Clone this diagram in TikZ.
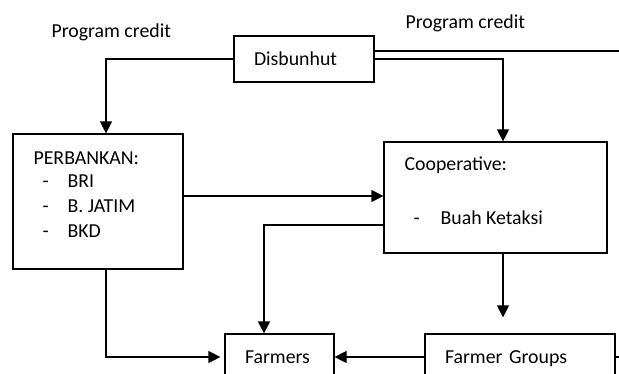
\documentclass[tikz,border=0pt]{standalone}
\usepackage{fontspec}
\setmainfont{Carlito}
\usetikzlibrary{arrows.meta}

\begin{document}
\begin{tikzpicture}[x=1pt, y=-1pt, line width=1.2pt,
    font=\fontsize{19.8}{24}\selectfont,
    box/.style={draw, inner sep=0pt, text height=12pt, text depth=0pt},
    txt/.style={anchor=base west, inner sep=0pt},
    arr/.style={-{Triangle[length=12pt,width=12pt]}}]
  \clip (0,0) rectangle (619,373);

  % boxes
  \node[box, minimum width=140pt, minimum height=46pt, text width=100pt, inner xsep=20pt, align=left] (disb) at (304,59) {Disbunhut};
  \node[box, minimum width=170pt, minimum height=135pt] (perb) at (98,201.5) {};
  \node[box, minimum width=223pt, minimum height=111pt] (coop) at (495.5,197.5) {};
  \node[box, minimum width=109pt, minimum height=46pt, text width=69pt, inner xsep=20pt, align=left] (farm) at (279.5,357) {Farmers};
  \node[box, minimum width=190pt, minimum height=46pt, text width=150pt, inner xsep=20pt, align=left] (fg) at (520,357) {Farmer Groups};

  % texts
  \node[txt] (credl) at (51,37) {Program credit};
  \node[txt] (credr) at (405,28) {Program credit};
  \node[txt] (perbt) at (33,164) {PERBANKAN:};
  \foreach \y/\t/\n in {187/BRI/bri, 212/B. JATIM/jatim, 237/BKD/bkd} {
    \node[txt] (dash\n) at (42,\y) {-};
    \node[txt] (\n) at (67,\y) {\t};
  }
  \node[txt] (coopt) at (404,170) {Cooperative:};
  \node[txt] (dashbuah) at (413,224) {-};
  \node[txt] (buah) at (440,224) {Buah Ketaksi};

  % connectors
  \draw[arr] (disb.west) -| ([xshift=8pt]perb.north);
  \coordinate (credend) at (619,51);
  \draw ([yshift=8pt]disb.east) -- (credend);
  \draw[arr] (disb.east) -| ([xshift=7.5pt]coop.north);
  \draw[arr] ([yshift=5.5pt]perb.east) -- ([yshift=5.5pt]perb.east -| coop.west);
  \draw[arr] ([yshift=-27.5pt]coop.west) -| ([xshift=-15.5pt]farm.north);
  \draw[arr, shorten >=4pt] ([xshift=8pt]perb.south) |- (farm.west);
  \draw[arr, shorten >=16pt] ([xshift=7.5pt]coop.south) -- ([xshift=7.5pt]coop.south |- fg.north);
  \draw[arr] (fg.west) -- (farm.east);
  \coordinate (fgend) at (619,357);
  \draw (fg.east) -- (fgend);
\end{tikzpicture}
\end{document}
